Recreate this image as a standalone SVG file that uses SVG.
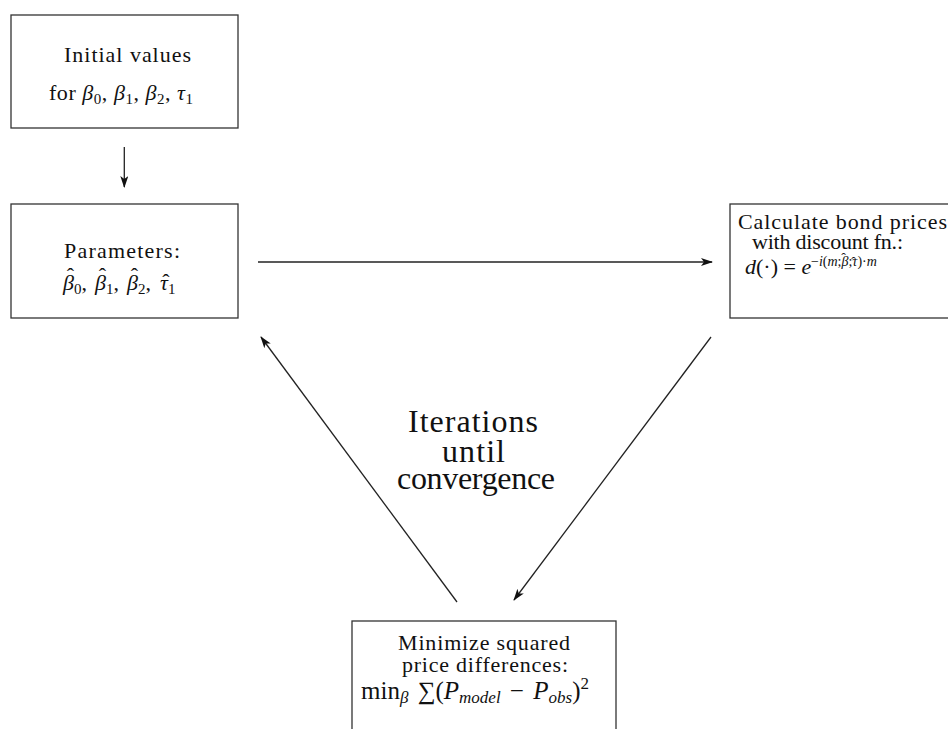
<svg xmlns="http://www.w3.org/2000/svg" width="948" height="729" viewBox="0 0 948 729">
<style>
.box{fill:#fff;stroke:#333;stroke-width:1.3}
.t{font-family:"Liberation Serif","DejaVu Serif",serif;font-size:22px;fill:#111;text-anchor:middle}
.l{text-anchor:start}
.big{font-size:32px}
.i{font-style:italic}
.s{font-size:15px}
.m{font-size:25px}
.ms{font-size:17px}
.h{font-family:"Liberation Serif","DejaVu Serif",serif;font-size:22px;fill:#111;text-anchor:middle}
.h.x,.t.x{font-size:14px}
.e{stroke:#222;stroke-width:1.3;fill:none;marker-end:url(#ah)}
</style>
<defs>
<marker id="ah" viewBox="0 0 12 8" refX="11" refY="4" markerWidth="12" markerHeight="8" markerUnits="userSpaceOnUse" orient="auto">
<path d="M0,0 L12,4 L0,8 L3,4 Z" fill="#111"/>
</marker>
</defs>
<rect width="948" height="729" fill="#fff"/>
<g id="connectors">
<line class="e" x1="124.3" y1="147" x2="124.3" y2="187"/>
<line class="e" x1="258" y1="262" x2="712" y2="262"/>
<line class="e" x1="711" y1="337" x2="514" y2="600"/>
<line class="e" x1="457" y1="602" x2="261" y2="337"/>
</g>
<g id="initial">
<rect class="box" x="11" y="15" width="227" height="113"/>
<text class="t" x="127.5" y="62" textLength="127">Initial values</text>
<text class="t" x="121" y="100" textLength="144">for <tspan class="i">β</tspan><tspan class="s" dy="4">0</tspan><tspan dy="-4">, </tspan><tspan class="i">β</tspan><tspan class="s" dy="4">1</tspan><tspan dy="-4">, </tspan><tspan class="i">β</tspan><tspan class="s" dy="4">2</tspan><tspan dy="-4">, </tspan><tspan class="i">τ</tspan><tspan class="s" dy="4">1</tspan></text>
</g>
<g id="parameters">
<rect class="box" x="11" y="204" width="227" height="114"/>
<text class="t" x="122" y="258" textLength="116">Parameters:</text>
<text class="t l" y="290"><tspan class="i" x="63">β</tspan><tspan class="s" dy="4">0</tspan><tspan dy="-4">,</tspan><tspan class="i" x="95">β</tspan><tspan class="s" dy="4">1</tspan><tspan dy="-4">,</tspan><tspan class="i" x="127">β</tspan><tspan class="s" dy="4">2</tspan><tspan dy="-4">,</tspan><tspan class="i" x="160">τ</tspan><tspan class="s" dy="4">1</tspan></text>
<text class="h" x="70.5" y="283">ˆ</text>
<text class="h" x="102.5" y="283">ˆ</text>
<text class="h" x="134.5" y="283">ˆ</text>
<text class="h" x="166" y="289">ˆ</text>
</g>
<g id="calculate">
<rect class="box" x="730" y="204" width="230" height="114"/>
<text class="t" x="842.5" y="229" textLength="209">Calculate bond prices</text>
<text class="t" x="827.5" y="249" textLength="151">with discount fn.:</text>
<text class="t l" x="745" y="274"><tspan class="i">d</tspan>(·) = <tspan class="i">e</tspan></text>
<text class="t l x" x="811" y="266">−<tspan class="i">i</tspan>(<tspan class="i">m</tspan>;<tspan class="i">β</tspan>;<tspan class="i">τ</tspan>)·<tspan class="i">m</tspan></text>
<text class="h x" x="843.5" y="263">ˆ</text>
<text class="h x" x="853.5" y="267">ˆ</text>
</g>
<g id="minimize">
<rect class="box" x="352" y="621" width="264" height="120"/>
<text class="t" x="484" y="650" textLength="172">Minimize squared</text>
<text class="t" x="485" y="672" textLength="166">price differences:</text>
<text class="t l m" x="361" y="699" word-spacing="3">min<tspan class="ms i" dy="4">β</tspan><tspan dy="-4"> ∑(</tspan><tspan class="i">P</tspan><tspan class="ms i" dy="4">model</tspan><tspan dy="-4"> − </tspan><tspan class="i">P</tspan><tspan class="ms i" dy="4">obs</tspan><tspan dy="-4">)</tspan><tspan class="ms" dy="-10">2</tspan></text>
</g>
<g id="label">
<text class="t big" x="473" y="432" textLength="130">Iterations</text>
<text class="t big" x="473.5" y="462" textLength="63">until</text>
<text class="t big" x="476" y="489" textLength="158">convergence</text>
</g>
</svg>
